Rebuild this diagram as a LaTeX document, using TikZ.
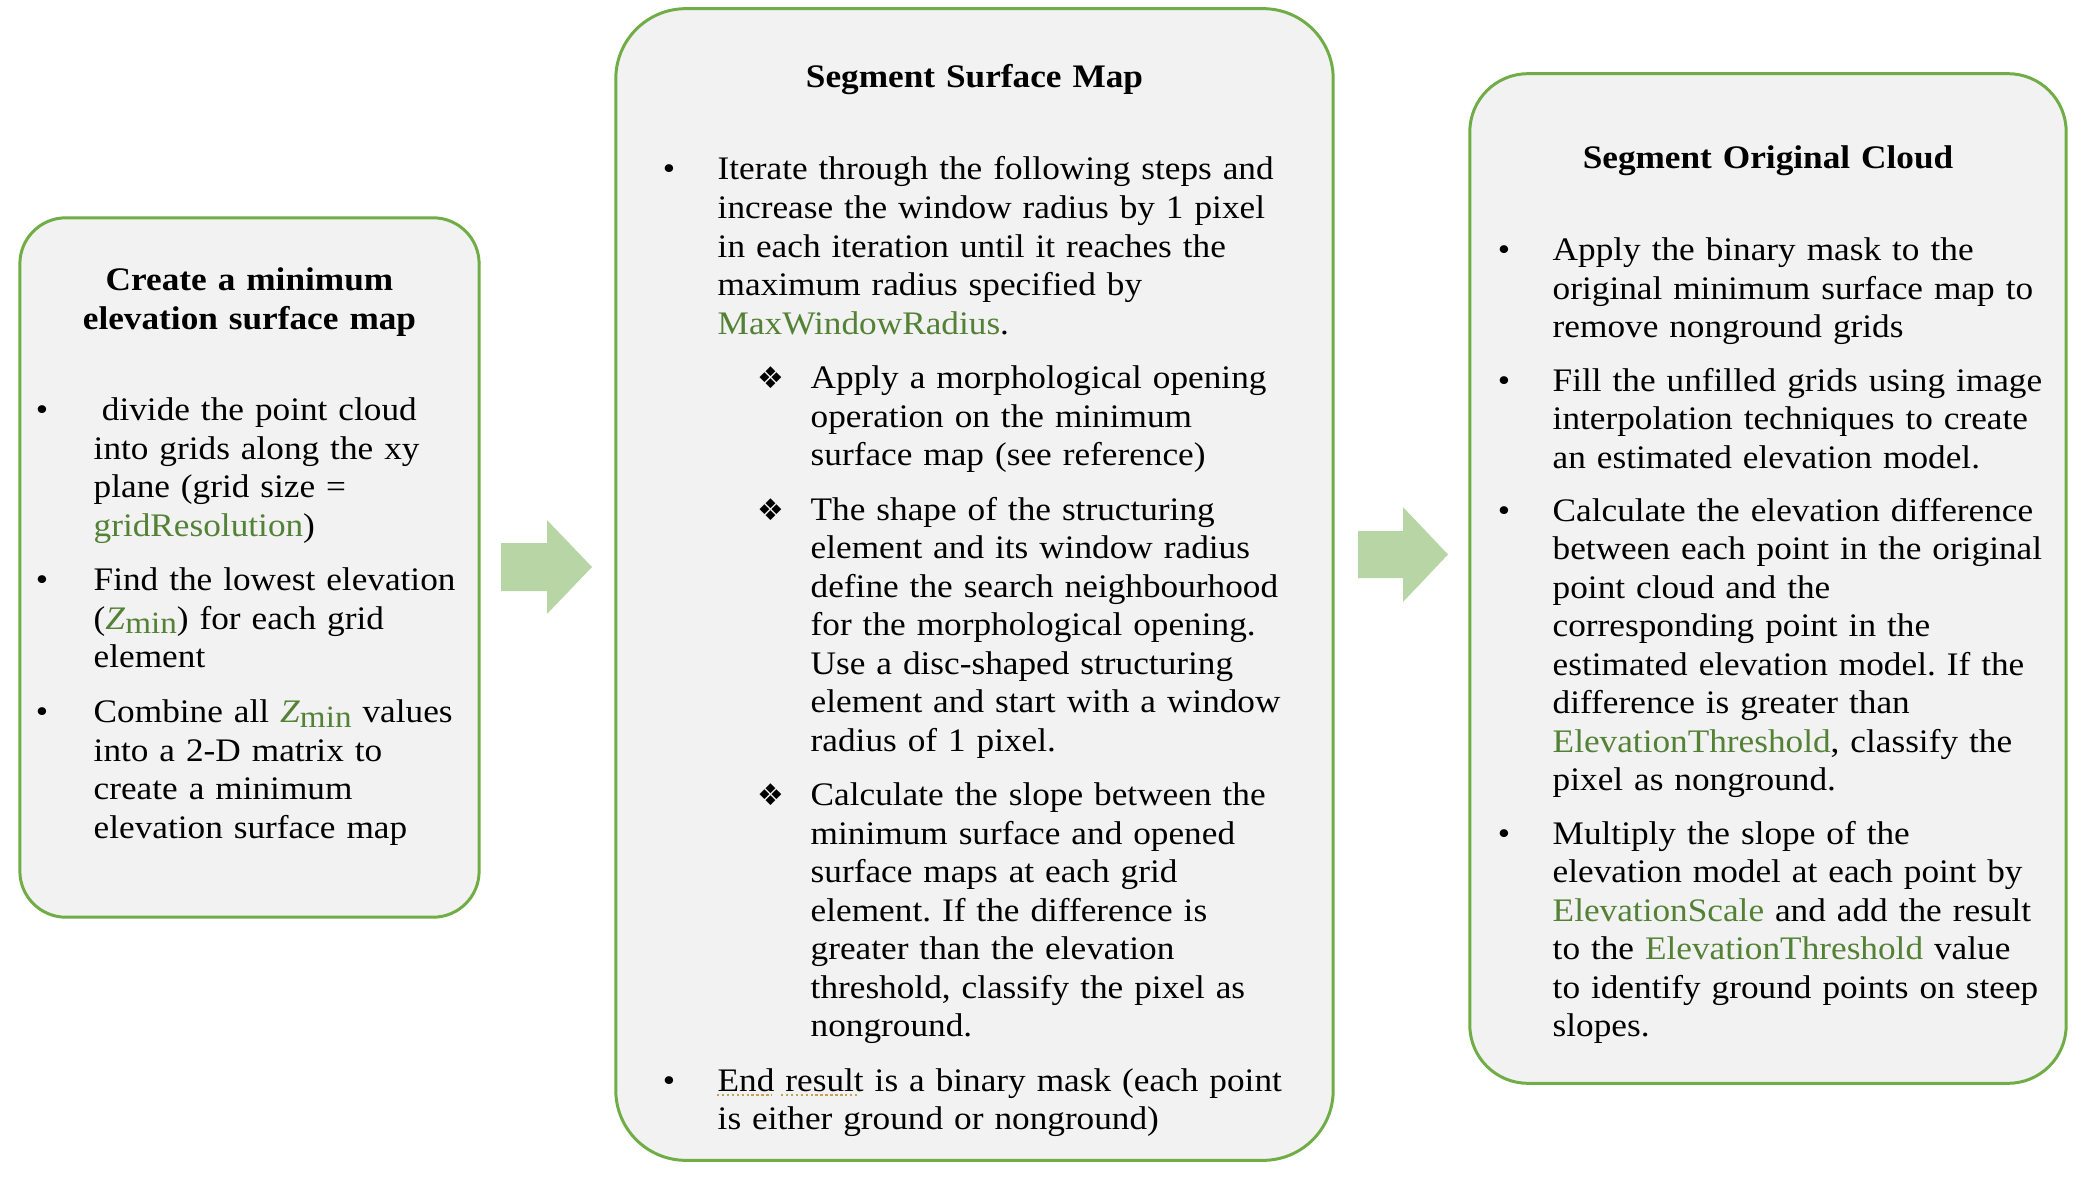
\documentclass[tikz,border=0pt]{standalone}
\usepackage{fontspec}
\setmainfont{Liberation Serif}[FakeStretch=1.072]
\newfontfamily\djv{DejaVu Sans}
\definecolor{bordergreen}{RGB}{112,173,71}
\definecolor{panelgray}{RGB}{242,242,242}
\definecolor{tg}{RGB}{83,129,53}
\definecolor{arrowgreen}{RGB}{184,214,165}
\definecolor{spellgold}{RGB}{200,160,80}
\frenchspacing
\newcommand\bodyfont{\fontsize{9.35}{10.95}\selectfont}
\newcommand\zmin{\textcolor{tg}{\textit{Z}\raisebox{-1.3pt}{\fontsize{8.8}{10}\selectfont min}}}
\tikzset{
  panel/.style={draw=bordergreen, fill=panelgray, line width=0.85pt},
  txt/.style={inner sep=0pt, anchor=base west, align=left, font=\bodyfont},
  ttl/.style={inner sep=0pt, anchor=base, align=center, font=\bodyfont\bfseries},
  bul/.style={inner sep=0pt, anchor=base, font=\bodyfont},
  dia/.style={inner sep=0pt, anchor=base, font=\djv\fontsize{8.5}{10}\selectfont},
  arrowshape/.style={fill=arrowgreen, draw=none},
  spell/.style={draw=spellgold, line width=0.7pt, dash pattern=on 0.7pt off 0.7pt}
}
\begin{document}
\begin{tikzpicture}[x=0.01cm, y=-0.01cm]
\useasboundingbox (0,0) rectangle (2078,1185);

% panels
\node[panel, minimum width=4.59cm, minimum height=6.99cm, rounded corners=0.46cm] (p1) at (249.5,567.5) {};
\node[panel, minimum width=7.17cm, minimum height=11.51cm, rounded corners=0.70cm] (p2) at (974.5,584.5) {};
\node[panel, minimum width=5.96cm, minimum height=10.09cm, rounded corners=0.58cm] (p3) at (1768,578.5) {};

% block arrows
\fill[arrowshape] (501,543) -- (547,543) -- (547,520) -- (592,567) -- (547,614) -- (547,591) -- (501,591) -- cycle;
\fill[arrowshape] (1358,531) -- (1403,531) -- (1403,507) -- (1448,554.5) -- (1403,602) -- (1403,578) -- (1358,578) -- cycle;

% ---- left panel
\node[ttl, text width=4.2cm] (t1) at (249.5,290.7) {Create a minimum\\elevation surface map};
\node[bul] (l1d) at (42,420.7) {•};
\node[txt, text width=4cm] (l1) at (93,420.7) {\hspace*{0.25em}divide the point cloud\\into grids along the xy\\plane (grid size =\\\textcolor{tg}{gridResolution})};
\node[bul] (l2d) at (42,590.7) {•};
\node[txt, text width=4cm] (l2) at (93,590.7) {Find the lowest elevation\\(\zmin) for each grid\\element};
\node[bul] (l3d) at (42,722.7) {•};
\node[txt, text width=4cm] (l3) at (93,722.7) {Combine all \zmin{} values\\into a 2-D matrix to\\create a minimum\\elevation surface map};

% ---- middle panel
\node[ttl, text width=6cm] (t2) at (974.5,87.3) {Segment Surface Map};
\node[bul] (m1d) at (669,180) {•};
\node[txt, text width=6.2cm] (m1) at (717,180) {Iterate through the following steps and\\increase the window radius by 1 pixel\\in each iteration until it reaches the\\maximum radius specified by\\\textcolor{tg}{MaxWindowRadius}.};
\node[dia] (s1d) at (771,388.5) {❖};
\node[txt, text width=5.5cm] (s1) at (810,388.5) {Apply a morphological opening\\operation on the minimum\\surface map (see reference)};
\node[dia] (s2d) at (771,520) {❖};
\node[txt, text width=5.5cm] (s2) at (810,520) {The shape of the structuring\\element and its window radius\\define the search neighbourhood\\for the morphological opening.\\Use a disc-shaped structuring\\element and start with a window\\radius of 1 pixel.};
\node[dia] (s3d) at (771,805.5) {❖};
\node[txt, text width=5.5cm] (s3) at (810,805.5) {Calculate the slope between the\\minimum surface and opened\\surface maps at each grid\\element. If the difference is\\greater than the elevation\\threshold, classify the pixel as\\nonground.};
\node[bul] (m2d) at (669,1091) {•};
\node[txt, text width=6.2cm] (m2) at (717,1091) {End result is a binary mask (each point\\is either ground or nonground)};
\draw[spell] (717,1095) -- (772,1095);
\draw[spell] (781,1095) -- (857,1095);

% ---- right panel
\node[ttl, text width=5.5cm] (t3) at (1768,168.3) {Segment Original Cloud};
\node[bul] (r1d) at (1504,260.7) {•};
\node[txt, text width=5.5cm] (r1) at (1552,260.7) {Apply the binary mask to the\\original minimum surface map to\\remove nonground grids};
\node[bul] (r2d) at (1504,391) {•};
\node[txt, text width=5.5cm] (r2) at (1552,391) {Fill the unfilled grids using image\\interpolation techniques to create\\an estimated elevation model.};
\node[bul] (r3d) at (1504,521) {•};
\node[txt, text width=5.5cm] (r3) at (1552,521) {Calculate the elevation difference\\between each point in the original\\point cloud and the\\corresponding point in the\\estimated elevation model. If the\\difference is greater than\\\textcolor{tg}{ElevationThreshold}, classify the\\pixel as nonground.};
\node[bul] (r4d) at (1504,844) {•};
\node[txt, text width=5.5cm] (r4) at (1552,844) {Multiply the slope of the\\elevation model at each point by\\\textcolor{tg}{ElevationScale} and add the result\\to the \textcolor{tg}{ElevationThreshold} value\\to identify ground points on steep\\slopes.};
\end{tikzpicture}
\end{document}
